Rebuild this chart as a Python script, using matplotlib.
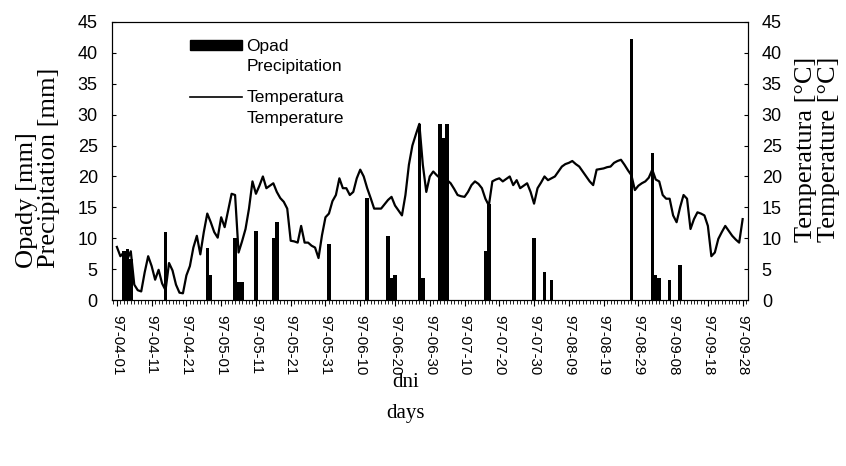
import pandas as pd
import matplotlib.pyplot as plt
import matplotlib.dates as mdates
from matplotlib.patches import Patch, Rectangle
from matplotlib.lines import Line2D
from matplotlib.legend_handler import HandlerBase

start = pd.Timestamp('1997-04-01')

# Opady - dzien od 1 kwietnia i wartosc [mm]
rain_days = [2, 3, 4, 14, 26, 27, 34, 35, 36, 40, 45, 46, 61, 72, 78, 79, 80,
             87, 88, 93, 94, 95, 106, 107, 120, 123, 125, 148, 154, 155, 156,
             159, 162]
rain_mm = [8.0, 8.2, 6.6, 11.0, 8.5, 4.1, 10.1, 3.0, 3.0, 11.1, 10.1, 12.6,
           9.0, 16.5, 10.4, 3.5, 4.0, 28.5, 3.5, 28.5, 26.3, 28.5, 8.0, 15.5,
           10.0, 4.5, 3.3, 42.3, 23.8, 4.1, 3.5, 3.3, 5.7]

# Temperatura dzienna [C]
temp_c = [8.6, 7.1, 7.7, 6.6, 7.9, 2.5, 1.6, 1.4, 4.5, 7.1,
          5.5, 3.3, 4.9, 2.7, 1.6, 6.0, 4.8, 2.5, 1.2, 1.1,
          4.0, 5.5, 8.5, 10.4, 7.4, 11.0, 14.0, 12.6, 11.0, 10.1,
          13.4, 11.8, 14.5, 17.2, 17.0, 7.7, 9.5, 11.5, 14.8, 19.2,
          17.2, 18.5, 20.0, 18.1, 18.5, 18.9, 17.5, 16.5, 15.9, 14.8,
          9.6, 9.5, 9.3, 12.0, 9.3, 9.3, 8.8, 8.5, 6.8, 10.5,
          13.4, 14.0, 16.0, 17.0, 19.7, 18.1, 18.1, 17.0, 17.5, 19.7,
          21.1, 20.0, 18.1, 16.5, 14.8, 14.8, 14.8, 15.5, 16.2, 16.7,
          15.3, 14.5, 13.7, 17.0, 21.9, 25.0, 26.8, 28.5, 21.9, 17.5,
          20.0, 20.8, 20.2, 19.7, 19.5, 19.4, 18.9, 18.0, 17.0, 16.8,
          16.7, 17.5, 18.6, 19.2, 18.8, 18.1, 16.4, 15.3, 19.2, 19.5,
          19.7, 19.2, 19.6, 20.0, 18.6, 19.4, 18.1, 18.5, 18.9, 17.5,
          15.6, 18.1, 19.0, 20.0, 19.4, 19.7, 20.0, 20.8, 21.6, 22.0,
          22.2, 22.5, 22.0, 21.6, 20.8, 20.0, 19.2, 18.6, 21.1, 21.2,
          21.3, 21.5, 21.6, 22.2, 22.5, 22.7, 21.9, 21.0, 20.2, 17.8,
          18.5, 18.9, 19.2, 19.8, 21.1, 19.5, 19.2, 17.0, 16.4, 16.4,
          13.7, 12.6, 15.0, 17.0, 16.4, 11.5, 13.1, 14.2, 14.0, 13.7,
          12.0, 7.1, 7.7, 9.9, 11.0, 12.0, 11.2, 10.4, 9.8, 9.3,
          13.1]

rain_dates = [start + pd.Timedelta(days=d) for d in rain_days]
temp_dates = pd.date_range(start, periods=len(temp_c), freq='D')
tick_dates = pd.date_range(start, periods=19, freq='10D')

sans = 'Liberation Sans'
serif = 'Liberation Serif'


class TopBar(HandlerBase):
    # prostokat na wysokosci pierwszej linii opisu
    def create_artists(self, legend, orig_handle, xdescent, ydescent,
                       width, height, fontsize, trans):
        r = Rectangle((-xdescent, 0.72 * fontsize), width, 0.58 * fontsize,
                      facecolor='black', edgecolor='black', transform=trans)
        return [r]


class TopLine(HandlerBase):
    def create_artists(self, legend, orig_handle, xdescent, ydescent,
                       width, height, fontsize, trans):
        y = 0.95 * fontsize
        ln = Line2D([-xdescent, width - xdescent], [y, y], color='black',
                    lw=1.2, transform=trans)
        return [ln]


fig = plt.figure(figsize=(8.46, 4.66), dpi=100)
ax = fig.add_axes([0.132, 0.356, 0.752, 0.597])
ax2 = ax.twinx()

ax.bar(rain_dates, rain_mm, width=1.0, color='black', zorder=2)
ax2.plot(temp_dates, temp_c, color='black', lw=1.6)

ax.set_ylim(0, 45)
ax2.set_ylim(0, 45)
ax.set_yticks(range(0, 46, 5))
ax2.set_yticks(range(0, 46, 5))
ax.set_xlim(start - pd.Timedelta(days=1.5), start + pd.Timedelta(days=181.5))

ax.set_xticks(tick_dates)
ax.xaxis.set_major_formatter(mdates.DateFormatter('%y-%m-%d'))
ax.xaxis.set_minor_locator(mdates.DayLocator())
ax.tick_params(axis='x', which='major', length=4, pad=7, rotation=270,
               labelsize=10.8)
ax.tick_params(axis='x', which='minor', length=3)
ax.tick_params(axis='y', direction='in', length=3, pad=10, labelsize=13)
ax2.tick_params(axis='y', direction='in', length=3, pad=10, labelsize=13)
for lab in ax.get_xticklabels() + ax.get_yticklabels() + ax2.get_yticklabels():
    lab.set_family(sans)

ax.set_ylabel('Opady [mm]\nPrecipitation [mm]', family=serif, fontsize=19,
              linespacing=0.95, multialignment='left')
ax.yaxis.set_label_coords(-0.082, 0.475)
ax2.set_ylabel('Temperatura [°C]\nTemperature [°C]', family=serif, fontsize=19,
               linespacing=1.05, multialignment='left')
ax2.yaxis.set_label_coords(1.074, 0.543)
fig.text(0.479, 0.169, 'dni', family=serif, fontsize=15, ha='center')
fig.text(0.479, 0.104, 'days', family=serif, fontsize=15, ha='center')

handles = [Patch(facecolor='black'), Line2D([], [], color='black')]
leg = ax.legend(handles, ['Opad\nPrecipitation', 'Temperatura\nTemperature'],
                loc='upper left', bbox_to_anchor=(0.123, 0.94), frameon=False,
                borderpad=0, borderaxespad=0, handlelength=3.0,
                handletextpad=0.25, labelspacing=0.93,
                handler_map={Patch: TopBar(), Line2D: TopLine()},
                prop={'family': sans, 'size': 12.5})
for t in leg.get_texts():
    t.set_linespacing(1.45)

plt.savefig('out.png', dpi=100)
